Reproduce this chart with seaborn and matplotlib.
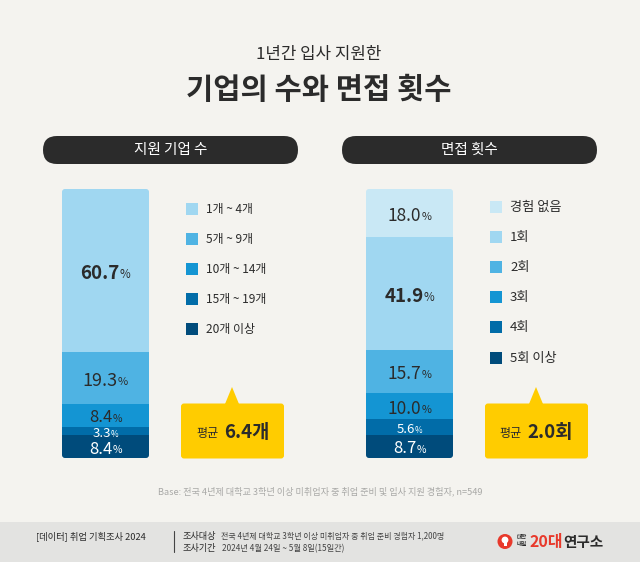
"""Stacked bars: companies applied to and interviews in one year."""

import matplotlib
matplotlib.use('Agg')
import matplotlib.pyplot as plt
import seaborn as sns
from matplotlib.patches import Circle, FancyBboxPatch, Polygon, Rectangle

# Data
company_labels = ['1개 ~ 4개', '5개 ~ 9개', '10개 ~ 14개', '15개 ~ 19개', '20개 이상']
company_values = [60.7, 19.3, 8.4, 3.3, 8.4]
interview_labels = ['경험 없음', '1회', '2회', '3회', '4회', '5회 이상']
interview_values = [18.0, 41.9, 15.7, 10.0, 5.6, 8.7]
company_colors = ['#a0d7f1', '#4fb3e3', '#1495d3', '#016ca8', '#004b7b']
interview_colors = ['#c9e8f5'] + company_colors

BG = '#f4f3ef'
DARK = '#2b2b2b'
YELLOW = '#ffcc00'
W, H = 640, 562

sns.set_theme(style='white')
plt.rcParams['font.family'] = ['Noto Sans CJK KR', 'DejaVu Sans']

fig = plt.figure(figsize=(W / 100, H / 100), dpi=100, facecolor=BG)
page = fig.add_axes([0, 0, 1, 1], zorder=0)
page.set_xlim(0, W)
page.set_ylim(H, 0)
page.axis('off')
over = fig.add_axes([0, 0, 1, 1], zorder=5)
over.set_xlim(0, W)
over.set_ylim(H, 0)
over.axis('off')
over.patch.set_alpha(0)


def pct_label(x, y, value, size, color, weight='medium'):
    """Number with a smaller % sign, centred on x"""
    renderer = fig.canvas.get_renderer()
    num = over.text(x, y, f'{value:.1f}', fontsize=size, color=color, weight=weight,
                    ha='left', va='center')
    sign = over.text(x, y, '%', fontsize=size * 0.62, color=color, ha='left', va='center')
    num_w = num.get_window_extent(renderer).width
    sign_w = sign.get_window_extent(renderer).width
    start = x - (num_w + sign_w) / 2
    num.set_x(start)
    sign.set_x(start + num_w)
    sign.set_y(y + size * 0.08)


def stacked_bar(left, width, top, bottom, values, colors, label_sizes):
    """Draw one stacked bar top down with seaborn"""
    ax = fig.add_axes([left / W, 1 - bottom / H, width / W, (bottom - top) / H], zorder=2)
    total = sum(values)
    start = 0
    for val, col in zip(values, colors):
        sns.barplot(x=[0], y=[val], bottom=start, color=col, width=1, saturation=1,
                    linewidth=0, ax=ax)
        start += val
    ax.set_xlim(-0.5, 0.5)
    ax.set_ylim(total, 0)
    ax.axis('off')
    clip = FancyBboxPatch((left, top), width, bottom - top, boxstyle='round,pad=0,rounding_size=3',
                          transform=page.transData)
    for bar in ax.patches:
        bar.set_clip_path(clip)

    # value labels
    start = 0
    scale = (bottom - top) / total
    for i, (val, col) in enumerate(zip(values, colors)):
        y = top + (start + val / 2) * scale + 2.5
        size, weight = label_sizes[i]
        txt_col = 'white' if col in ('#016ca8', '#004b7b') else DARK
        pct_label(left + width / 2, y, val, size, txt_col, weight)
        start += val


def legend(x, ys, labels, colors, size):
    for y, lab, col in zip(ys, labels, colors):
        page.add_patch(Rectangle((x, y - 6), 12, 12, color=col, lw=0))
        page.text(x + 20, y + 0.5, lab, fontsize=size, color=DARK, ha='left', va='center')


def header(x0, x1, label):
    page.add_patch(FancyBboxPatch((x0, 136), x1 - x0, 28, boxstyle='round,pad=0,rounding_size=14',
                                  fc=DARK, ec='none', mutation_aspect=1))
    page.text((x0 + x1) / 2, 150, label, fontsize=10.5, color='white', ha='center', va='center')


def callout(x0, x1, tip_x, unit_x, value, value_x):
    page.add_patch(FancyBboxPatch((x0, 403.5), x1 - x0, 55, boxstyle='round,pad=0,rounding_size=3',
                                  fc=YELLOW, ec='none'))
    page.add_patch(Polygon([(tip_x - 7, 404), (tip_x, 387), (tip_x + 7, 404)], fc=YELLOW, ec='none'))
    page.text(unit_x, 434, '평균', fontsize=8.7, color=DARK, ha='left', va='center')
    page.text(value_x, 432.5, value, fontsize=13.5, color=DARK, weight='bold', ha='left', va='center')


# Title
page.text(319, 55, '1년간 입사 지원한', fontsize=12.1, color=DARK, ha='center', va='center', weight='light')
page.text(319, 90, '기업의 수와 면접 횟수', fontsize=21.3, color=DARK, ha='center', va='center', weight='bold')

header(43, 298, '지원 기업 수')
header(342, 597, '면접 횟수')

# Bars
stacked_bar(62, 87, 189, 458, company_values, company_colors,
            [(13.5, 'bold'), (13, 'medium'), (12, 'medium'), (9.5, 'regular'), (12, 'medium')])
stacked_bar(366, 87, 189, 458, interview_values, interview_colors,
            [(12.5, 'medium'), (13.5, 'bold'), (12.5, 'medium'), (12.5, 'medium'), (9.5, 'regular'), (12, 'medium')])

legend(186, [208.5, 238.5, 268.5, 299, 329], company_labels, company_colors, 8.6)
legend(490, [207, 237, 267, 297, 327, 358], interview_labels, interview_colors, 9.5)

callout(181, 284, 232, 196, '6.4개', 224)
callout(485, 588, 536, 499, '2.0회', 527)

page.text(320, 491.5, 'Base: 전국 4년제 대학교 3학년 이상 미취업자 중 취업 준비 및 입사 지원 경험자, n=549',
          fontsize=6.6, color='#a9a9a7', ha='center', va='center')

# Footer
page.add_patch(Rectangle((0, 522), W, 40, color='#e3e3e1', lw=0))
page.text(36, 536, '[데이터] 취업 기획조사 2024', fontsize=6.7, color=DARK, ha='left', va='center', weight='medium')
page.plot([173.5, 173.5], [531, 552], color='#444444', lw=0.8)
page.text(183, 536, '조사대상', fontsize=6.6, color=DARK, ha='left', va='center', weight='medium')
page.text(183, 548.5, '조사기간', fontsize=6.6, color=DARK, ha='left', va='center', weight='medium')
page.text(221, 536, '전국 4년제 대학교 3학년 이상 미취업자 중 취업 준비 경험자 1,200명', fontsize=5.75,
          color='#444444', ha='left', va='center')
page.text(222, 548.5, '2024년 4월 24일 ~ 5월 8일(15일간)', fontsize=5.9, color='#444444', ha='left', va='center')

# Logo
page.add_patch(Circle((505, 541.5), 7.5, fc='#e8392b', ec='none'))
page.add_patch(Circle((505, 540), 3.4, fc='white', ec='none'))
page.add_patch(Rectangle((503.5, 542), 3, 3.5, fc='white', ec='none'))
page.text(522, 537.5, '대학', fontsize=4, color=DARK, ha='center', va='center', weight='bold')
page.text(522, 545, '내일', fontsize=4, color=DARK, ha='center', va='center', weight='bold')
page.text(530, 542, '20대', fontsize=11.5, color='#e8392b', ha='left', va='center', weight='bold')
page.text(563, 542, '연구소', fontsize=10.5, color=DARK, ha='left', va='center', weight='bold')

fig.savefig('out.png', dpi=100, facecolor=BG)
